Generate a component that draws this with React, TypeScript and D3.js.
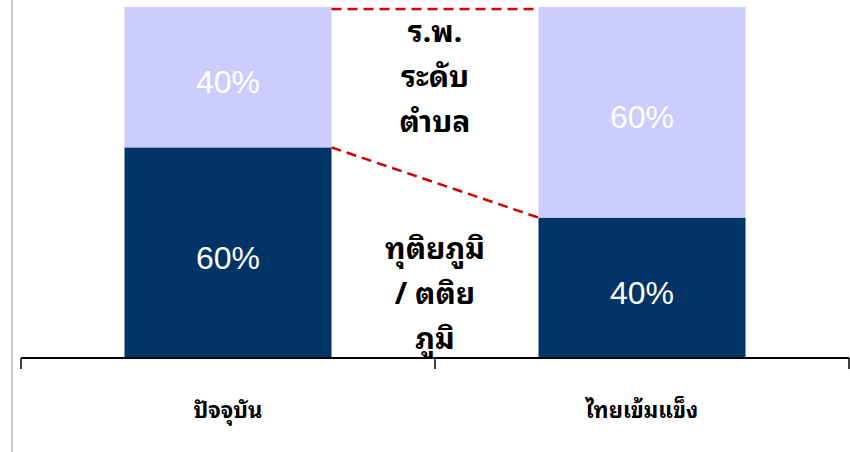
import React from "react";
import {scaleBand, scaleLinear} from "d3";

// categories and stacked shares (bottom = secondary/tertiary, top = subdistrict)
const categories = ["ปัจจุบัน", "ไทยเข้มแข็ง"];
const secondaryShare = [0.6, 0.4];
const subdistrictShare = [0.4, 0.6];
const topLabelLines = ["ร.พ.", "ระดับ", "ตำบล"];
const bottomLabelLines = ["ทุติยภูมิ", "/ ตติย", "ภูมิ"];

const width = 850;
const height = 452;
const darkColor = "#003366";
const lightColor = "#CCCCFF";
const thaiFont =
    "Tahoma, 'Noto Sans Thai Looped', Loma, Garuda, 'Noto Sans Thai', 'Noto Sans', 'DejaVu Sans', sans-serif";
const numFont = "'Liberation Sans', Arial, sans-serif";

export default function App() {
    const x = scaleBand<string>().domain(categories).range([21, 849]).padding(0);
    const y = scaleLinear().domain([0, 1]).range([358, 7]);
    const barW = x.bandwidth() * 0.5;
    const barX = (c: string) => (x(c) || 0) + x.bandwidth() * 0.25;

    const left = categories[0];
    const right = categories[1];
    const gapL = barX(left) + barW;
    const gapR = barX(right);
    const mid = (gapL + gapR) / 2;
    const lineGap = 45;

    return (
        <svg
            width={width}
            height={height}
            style={{position: "absolute", left: 0, top: 0, background: "#fff"}}
        >
            <line x1={12} x2={12} y1={0} y2={height} stroke="#cccccc" strokeWidth={2} />

            {categories.map((c, i) => {
                const bx = barX(c);
                const low = secondaryShare[i];
                const high = low + subdistrictShare[i];
                return (
                    <g key={c}>
                        <rect x={bx} y={y(low)} width={barW} height={y(0) - y(low)} fill={darkColor} />
                        <rect x={bx} y={y(high)} width={barW} height={y(low) - y(high)} fill={lightColor} />
                        <text
                            x={bx + barW / 2}
                            y={(y(0) + y(low)) / 2 + 16}
                            textAnchor="middle"
                            fill="#fff"
                            fontFamily={numFont}
                            fontSize={32}
                        >
                            {Math.round(low * 100)}%
                        </text>
                        <text
                            x={bx + barW / 2}
                            y={(y(low) + y(high)) / 2 + 16}
                            textAnchor="middle"
                            fill="#fff"
                            fontFamily={numFont}
                            fontSize={32}
                        >
                            {Math.round(subdistrictShare[i] * 100)}%
                        </text>
                    </g>
                );
            })}

            {/* series connectors */}
            <line
                x1={gapL}
                x2={gapR}
                y1={y(1) + 2}
                y2={y(1) + 2}
                stroke="#cc0000"
                strokeWidth={2.5}
                strokeDasharray="10,6"
            />
            <line
                x1={gapL}
                x2={gapR}
                y1={y(secondaryShare[0])}
                y2={y(secondaryShare[1])}
                stroke="#cc0000"
                strokeWidth={2.5}
                strokeDasharray="10,6"
            />

            {topLabelLines.map((t, i) => (
                <text
                    key={t}
                    x={mid}
                    y={y(0.8) + (i - 1) * lineGap + 10}
                    textAnchor="middle"
                    fontFamily={thaiFont}
                    fontWeight="bold"
                    fontSize={30}
                    fill="#000"
                >
                    {t}
                </text>
            ))}
            {bottomLabelLines.map((t, i) => (
                <text
                    key={t}
                    x={mid}
                    y={y(0.2) + (i - 1) * lineGap + 16}
                    textAnchor="middle"
                    fontFamily={thaiFont}
                    fontWeight="bold"
                    fontSize={30}
                    fill="#000"
                >
                    {t}
                </text>
            ))}

            {/* category axis */}
            <line x1={21} x2={849} y1={y(0)} y2={y(0)} stroke="#000" strokeWidth={2} />
            {[21, mid, 849].map((tx) => (
                <line key={tx} x1={tx} x2={tx} y1={y(0)} y2={y(0) + 11} stroke="#000" strokeWidth={1.5} />
            ))}
            {categories.map((c) => (
                <text
                    key={c}
                    x={(x(c) || 0) + x.bandwidth() / 2}
                    y={418}
                    textAnchor="middle"
                    fontFamily={thaiFont}
                    fontWeight="bold"
                    fontSize={22}
                    fill="#000"
                >
                    {c}
                </text>
            ))}
        </svg>
    );
}
